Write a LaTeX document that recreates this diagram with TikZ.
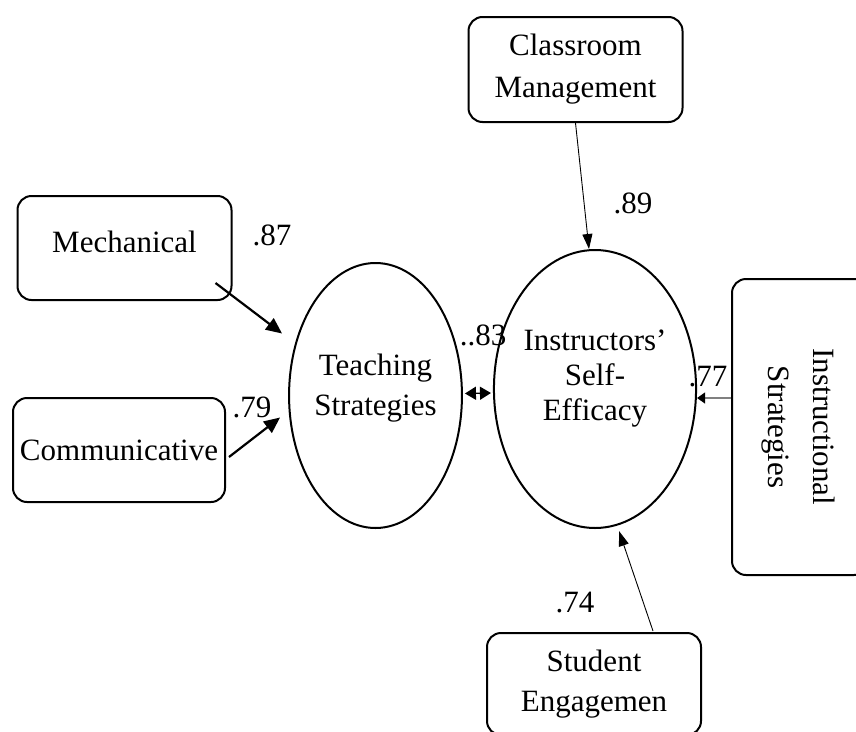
\documentclass[tikz,border=0pt]{standalone}
\usepackage{fontspec}
\setmainfont{Liberation Serif}
\usepackage{graphicx}
\usetikzlibrary{arrows.meta,calc,shapes.geometric}
\tikzset{
  itembox/.style={draw, line width=2pt, rounded corners=14pt, align=center,
    inner sep=0pt, minimum width=214pt, minimum height=104pt},
  factor/.style={ellipse, draw, line width=2pt, align=center, inner sep=0pt},
  coef/.style={inner sep=0pt},
  boldpath/.style={-{Triangle[length=16pt,width=14pt]}, line width=2.2pt},
  thinpath/.style={-{Triangle[length=15pt,width=10pt]}, line width=0.9pt},
  greypath/.style={-{Triangle[length=8pt,width=11pt,black]}, line width=1.2pt, draw=black!50},
  corrpath/.style={{Triangle[length=11pt,width=13pt]}-{Triangle[length=11pt,width=13pt]}, line width=1.4pt}
}

\begin{document}
\begin{tikzpicture}[x=1pt, y=-1pt, font=\fontsize{31}{40}\selectfont]
\useasboundingbox (0,0) rectangle (856,731);

% indicator boxes
\node[itembox, text depth=12pt] (mech) at (124.5,248) {Mechanical};
\node[itembox, minimum width=212pt] (comm) at (119,450) {Communicative};
\node[itembox, minimum height=105pt, font=\fontsize{31}{42}\selectfont] (class) at (575.5,69.5) {Classroom\\Management};
\node[itembox, minimum height=102pt] (stud) at (594,684) {Student\\Engagemen};
\node[itembox, minimum width=136pt, minimum height=296pt, font=\fontsize{31}{45}\selectfont] (instr) at (800,427)
  {\rotatebox{-90}{\begin{tabular}{@{}c@{}}Instructional\\Strategies\end{tabular}}};

% latent factors
\node[factor, minimum width=165pt, minimum height=265pt, text depth=22pt] (teach) at (375.5,395.5) {Teaching\\Strategies};
\node[factor, minimum width=176pt, minimum height=278pt, text depth=28pt, font=\fontsize{31}{35}\selectfont] (self) at (595,389) {Instructors'\\Self-\\Efficacy};

% paths
\draw[boldpath] ($(mech.south east)+(-17,-18)$) -- ($(teach.west)+(-6,-62)$);
\draw[boldpath] ($(comm.east)+(3,7)$) -- ($(teach.west)+(-8,22)$);
\draw[corrpath] ($(teach.east)+(2,-2)$) -- ($(self.west)+(-2,4)$);
\draw[thinpath] (class.south) -- ($(self.north)+(-6,0)$);
\draw[greypath] ($(instr.west)+(0,-29)$) -- ($(self.east)+(0,9)$);
\draw[thinpath] ($(stud.north)+(59,-1)$) -- ($(self.south)+(24,2)$);

% loadings
\node[coef] (l87) at (272,235) {.87};
\node[coef] (l79) at (252,407) {.79};
\node[coef] (l83) at (483,335) {..83};
\node[coef] (l89) at (633,203) {.89};
\node[coef] (l77) at (708,377) {.77};
\node[coef] (l74) at (575,603) {.74};
\end{tikzpicture}
\end{document}
